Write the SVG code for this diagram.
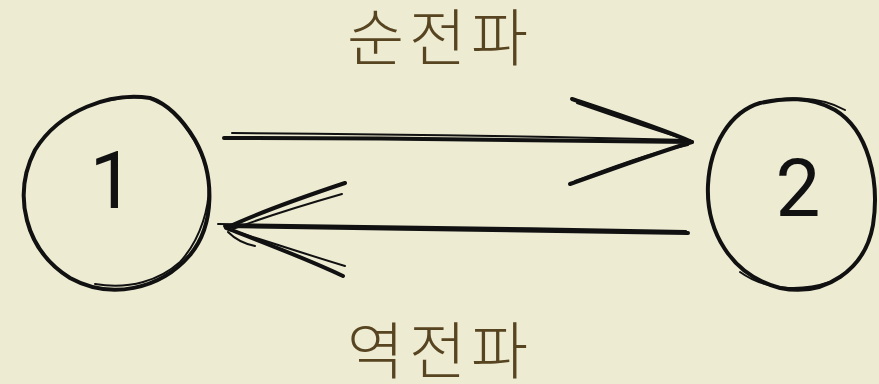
<svg xmlns="http://www.w3.org/2000/svg" width="879" height="384" viewBox="0 0 879 384">
<style>
.ink{fill:none;stroke:#111;stroke-width:4;stroke-linecap:round;stroke-linejoin:round}
.thin{fill:none;stroke:#111;stroke-width:2;stroke-linecap:round}
.num{font-family:Roboto,"Liberation Sans",sans-serif;font-size:80px;fill:#111;text-anchor:middle}
.lab{font-family:"Noto Sans CJK KR",sans-serif;font-size:62px;font-weight:300;letter-spacing:5px;fill:#574420;text-anchor:middle}
</style>
<rect width="879" height="384" fill="#eeebd3"/>
<g id="node1">
<path class="ink" d="M150,98 C110,92 60,110 35,150 C12,195 25,250 70,278 C110,300 160,290 190,255 C215,225 215,175 195,140 C180,115 165,103 150,98 Z"/>
<path class="thin" d="M105,101 C125,97 145,96 155,99 C178,113 200,140 208,175 C212,205 200,240 180,262 C160,280 130,290 95,284"/>
<text class="num" x="112" y="208">1</text>
</g>
<g id="node2">
<path class="ink" d="M760,103 C730,112 710,145 708,185 C706,230 730,275 780,288 C825,297 865,270 873,225 C880,180 868,130 835,110 C810,96 785,98 760,103 Z"/>
<path class="thin" d="M755,105 C785,95 820,96 845,110 M740,272 C765,290 800,292 830,282"/>
<text class="num" x="798" y="216">2</text>
</g>
<g id="label-forward">
<text class="lab" x="440" y="61">순전파</text>
</g>
<g id="label-backward">
<text class="lab" x="440" y="374">역전파</text>
</g>
<g id="connectors">
<path class="ink" d="M224,138 C380,138 540,140 692,142"/>
<path class="thin" d="M232,133 C400,134 560,137 690,140"/>
<path class="ink" d="M572,99 C620,115 660,128 692,142 C650,155 610,170 570,184"/>
<path class="thin" d="M577,103 C620,118 655,130 688,140 M575,181 C615,166 650,153 688,145"/>
<path class="ink" d="M688,233 C530,231 380,228 225,226"/>
<path class="thin" d="M686,231 C530,228 380,226 218,224"/>
<path class="ink" d="M345,183 C300,198 260,212 226,228 C265,243 305,258 343,276"/>
<path class="thin" d="M342,194 C300,206 262,218 230,230 C270,242 305,254 345,266 M228,232 C236,240 245,244 255,246"/>
</g>
</svg>
